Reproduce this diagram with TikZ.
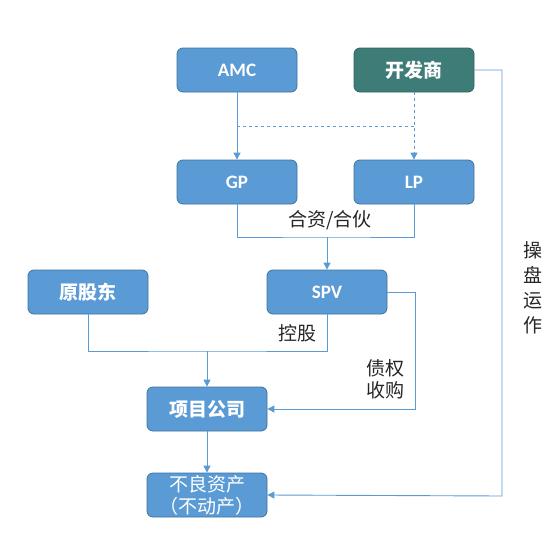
\documentclass[tikz,border=0pt]{standalone}
\usepackage{fontspec}
\setmainfont{Carlito}
\newfontfamily\cjk{Noto Sans CJK SC}
\usepackage{tikz}
\usetikzlibrary{arrows.meta}
\definecolor{boxblue}{HTML}{5B9BD5}
\definecolor{boxedge}{HTML}{41719C}
\definecolor{devteal}{HTML}{3E7C78}
\definecolor{linkblue}{HTML}{5B9BD5}

\begin{document}
\begin{tikzpicture}[x=1pt, y=-1pt,
        box/.style = {draw=boxedge, fill=boxblue, line width=0.8pt, rounded corners=6pt,
                      minimum width=120pt, minimum height=44pt, text=white,
                      font=\fontsize{19}{21}\selectfont\bfseries, inner sep=1pt},
        devbox/.style = {box, fill=devteal, draw=devteal!80!black},
        link/.style = {draw=linkblue, line width=0.9pt},
        tip/.style = {-{Triangle[width=7pt,length=7pt]}},
        lbl/.style = {text=black!85, font=\fontsize{19}{22}\selectfont\cjk, inner sep=1pt}]
        \useasboundingbox (0,0) rectangle (550,539);
        % boxes
        \node [box] (amc) at (237,70) {AMC};
        \node [devbox] (dev) at (414,70) {\cjk 开发商};
        \node [box] (gp) at (237,182) {GP};
        \node [box] (lp) at (414,182) {LP};
        \node [box] (holder) at (88,292) {\cjk 原股东};
        \node [box] (spv) at (327,292) {SPV};
        \node [box] (proj) at (207,409) {\cjk 项目公司};
        \node [box, align=center, font=\fontsize{19}{22}\selectfont\cjk] (asset) at (207,495) {不良资产\\（不动产）};
        % turning points
        \coordinate (split) at (237,126);
        \coordinate (fund) at (327,237);
        \coordinate (share) at (207,351);
        \coordinate (buy) at (415,409);
        \coordinate (ops) at (502,496);
        % connectors
        \draw [link, tip] (amc) -- (gp);
        \draw [link, dashed] (split) -- (split -| dev);
        \draw [link, dashed, tip] (dev) -- (lp);
        \draw [link] (gp.south) |- (fund) -| (lp.south);
        \draw [link, tip] (fund) -- (spv);
        \draw [link] (holder.south) |- (share) -| (spv.south);
        \draw [link, tip] (share) -- (proj);
        \draw [link, tip] (spv.east) -| (buy) -- (proj.east);
        \draw [link, tip] (proj) -- (asset);
        \draw [link, tip] (dev.east) -| (ops) -- (asset.east);
        % labels
        \node [lbl] (fundlbl) at (330,220) {合资/合伙};
        \node [lbl] (sharelbl) at (297,333) {控股};
        \node [lbl, align=center] (buylbl) at (385,379) {债权\\收购};
        \node [lbl, align=center, font=\fontsize{19}{25}\selectfont\cjk] (opslbl) at (533,288) {操\\盘\\运\\作};
\end{tikzpicture}
\end{document}
